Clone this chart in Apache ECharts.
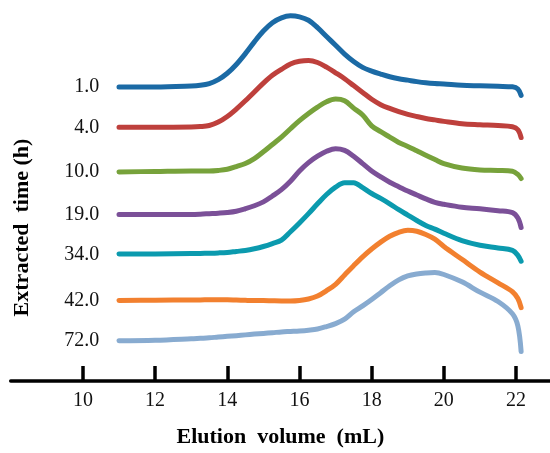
<!DOCTYPE html>
<html>
<head>
<meta charset="utf-8">
<script src="https://cdn.jsdelivr.net/npm/echarts@6/dist/echarts.min.js"></script>
<style>
html,body{margin:0;padding:0;background:#fff;}
#chart{width:550px;height:453px;}
</style>
</head>
<body>
<div id="chart"></div>
<script>
// Elution volume (mL) sampling points shared by all curves
const elutionVolume = [11, 12, 13, 13.25, 13.5, 13.75, 14, 14.25, 14.5, 14.75, 15, 15.25, 15.5, 15.75, 16, 16.25, 16.5, 16.75, 17, 17.25, 17.5, 17.75, 18, 18.25, 18.5, 18.75, 19, 19.25, 19.5, 19.75, 20, 20.5, 21, 21.5, 21.9, 22.05, 22.14];

// Extraction times (labels of the stacked curves, top to bottom)
const timeLabels = ["1.0", "4.0", "10.0", "19.0", "34.0", "42.0", "72.0"];

// Vertical offsets (baselines) of each stacked curve
const offsets = [299.5, 258, 213, 169, 129, 82, 41];

// Signal above each baseline (arbitrary detector units)
const signal_1h  = [0, 0, 1, 1.7, 3.5, 7.5, 14, 23, 34, 46, 57, 65.5, 70.5, 72.5, 71.5, 68, 60.5, 51.5, 42.5, 33.5, 26, 20, 16.2, 13.2, 10.5, 8.5, 7, 5.5, 4.3, 3.5, 3, 1.7, 1.2, 0.7, 0.2, -2, -8.5];
const signal_4h  = [0.5, 0.5, 0.8, 1.2, 2.3, 5.8, 11.5, 19, 27.5, 36.4, 45.5, 53.5, 59.5, 65, 67.7, 68.5, 66.5, 61.7, 56, 50, 43, 36, 29, 23.5, 19.7, 16.5, 13.7, 11.5, 9.5, 8, 6.5, 4, 3, 2.2, 1, -2, -10];
const signal_10h = [0, 0.5, 1, 1, 1, 1.5, 2.7, 5.5, 8.5, 13.5, 20.5, 28, 35.5, 44, 52.2, 59.5, 66, 71.5, 74.2, 72.5, 65, 58, 47, 41, 35.5, 30, 26, 21.5, 17, 12.7, 8.5, 4, 2, 1.5, 0.7, -2.5, -6.7];
const signal_19h = [0.5, 0.5, 0.7, 1, 1.5, 2, 2.7, 4, 6.5, 9.5, 13.5, 19.5, 26, 34.5, 45, 53.5, 60, 65, 67.7, 66, 60, 52.5, 45, 39, 33.5, 29, 24.5, 20.5, 16.5, 13, 11, 8, 6.5, 4.5, 2.5, -3, -12.7];
const signal_34h = [0.3, 0.5, 0.8, 1, 1.2, 1.5, 2, 3, 4, 5.7, 8, 11, 14.5, 23, 32, 41.5, 51.5, 61, 68.5, 73, 73, 68, 62, 57, 51.5, 45.5, 40, 34.5, 29.5, 25.7, 21.5, 14, 9.3, 6.5, 4, -1, -7];
const signal_42h = [0, 0.3, 0.5, 0.6, 0.7, 0.8, 0.8, 0.5, 0.2, 0, 0, -0.3, -0.5, -0.5, 0, 1.5, 4.5, 10, 16.5, 26, 35.5, 44.5, 52.5, 59.5, 65.5, 69.5, 71.5, 70.5, 67.2, 62.5, 55, 42, 29, 18, 9, 2, -7.3];
const signal_72h = [0, 0.5, 2, 2.5, 3, 3.8, 4.5, 5.2, 6, 6.8, 7.5, 8.2, 9, 9.5, 10, 10.8, 12, 14.5, 17.5, 22, 29.5, 35.5, 42, 49, 56, 62, 66, 68, 69, 69.5, 67.5, 60, 49.5, 40, 27.5, 15, -11];

const signals = [signal_1h, signal_4h, signal_10h, signal_19h, signal_34h, signal_42h, signal_72h];

// X axis tick values
const xTicks = [10, 12, 14, 16, 18, 20, 22];

const colors = ["#1b6aa5", "#be403c", "#77a23b", "#7b5098", "#0b9aae", "#f2802f", "#88abd0"];

const FONT = '"Liberation Serif", "Times New Roman", serif';

const series = signals.map((sig, i) => ({
  name: timeLabels[i],
  type: 'line',
  data: elutionVolume.map((x, j) => [x, offsets[i] + sig[j]]),
  showSymbol: false,
  smooth: 0.35,
  lineStyle: { width: 5, color: colors[i], cap: 'round', join: 'round' },
  itemStyle: { color: colors[i] },
  silent: true,
  animation: false
}));

const chart = echarts.init(document.getElementById('chart'), null, { renderer: 'canvas' });
chart.setOption({
  animation: false,
  backgroundColor: '#ffffff',
  grid: { left: 10.7, right: 0, top: 8, bottom: 65, containLabel: false },
  xAxis: {
    type: 'value',
    min: 8,
    max: 22.94,
    name: 'Elution  volume  (mL)',
    nameLocation: 'middle',
    nameGap: 45,
    nameTextStyle: { fontFamily: FONT, fontSize: 22, fontWeight: 'bold', color: '#000' },
    axisLine: { show: true, lineStyle: { color: '#000', width: 3.5 } },
    axisTick: { show: true, inside: true, length: 15, customValues: xTicks, lineStyle: { color: '#000', width: 3.5 } },
    axisLabel: { customValues: xTicks, fontFamily: FONT, fontSize: 20, color: '#111', margin: 10 },
    splitLine: { show: false }
  },
  yAxis: {
    type: 'value',
    min: 0,
    max: 380,
    offset: -96.6,
    axisLine: { show: false },
    axisTick: { show: false },
    splitLine: { show: false },
    axisLabel: {
      customValues: offsets,
      margin: 8,
      fontFamily: FONT,
      fontSize: 20,
      color: '#111',
      formatter: (v) => {
        const k = offsets.indexOf(v);
        return k >= 0 ? timeLabels[k] : '';
      }
    }
  },
  graphic: [{
    type: 'text',
    x: 22.5,
    y: 227.5,
    rotation: Math.PI / 2,
    style: {
      text: 'Extracted  time (h)',
      fontFamily: FONT,
      fontSize: 22,
      fontWeight: 'bold',
      fill: '#000',
      textAlign: 'center',
      textVerticalAlign: 'middle'
    }
  }],
  series: series
});
</script>
</body>
</html>
